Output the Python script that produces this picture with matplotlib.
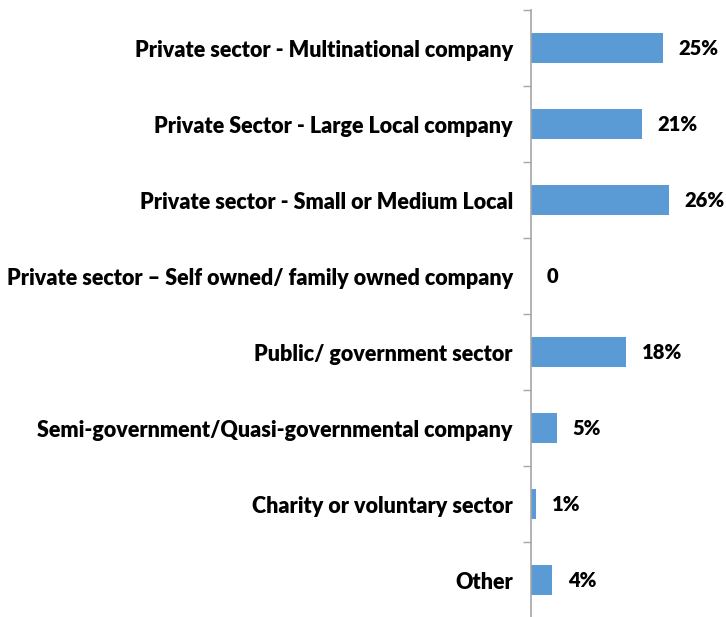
import matplotlib.pyplot as plt
import numpy as np

categories = ['Private sector - Multinational company',
              'Private Sector - Large Local company',
              'Private sector - Small or Medium Local',
              'Private sector \u2013 Self owned/ family owned company',
              'Public/ government sector',
              'Semi-government/Quasi-governmental company',
              'Charity or voluntary sector',
              'Other']
values = [25, 21, 26, 0, 18, 5, 1, 4]
value_labels = ['25%', '21%', '26%', '0', '18%', '5%', '1%', '4%']

plt.rcParams['font.family'] = ['Lato', 'DejaVu Sans']

fig = plt.figure(figsize=(7.26, 6.17), dpi=100)
ax = fig.add_axes([531/726, -0.002, 1 - 531/726, 1 - 10/617 + 0.002])

y = np.arange(len(categories))
ax.barh(y, values, height=0.39, color='#5b9bd5')

for yi, v, lab in zip(y, values, value_labels):
    ax.text(v + 2.9, yi, lab, va='center', ha='left', fontsize=14.5,
            fontweight='heavy', color='black')

ax.set_xlim(0, 36.8)
ax.set_ylim(len(categories) - 0.5, -0.5)

# boundary ticks on the axis line, category names as minor tick labels
ax.set_yticks(np.arange(len(categories) + 1) - 0.5)
ax.set_yticklabels([])
ax.set_yticks(y, minor=True)
ax.set_yticklabels(categories, minor=True, fontsize=15.5, fontweight='heavy')
ax.tick_params(axis='y', which='major', length=6, color='#a6a6a6', width=1)
ax.tick_params(axis='y', which='minor', length=0, pad=13)

ax.set_xticks([])
for side in ['top', 'right', 'bottom']:
    ax.spines[side].set_visible(False)
ax.spines['left'].set_color('#a6a6a6')
ax.spines['left'].set_linewidth(1.2)

fig.savefig('out.png', dpi=100)
